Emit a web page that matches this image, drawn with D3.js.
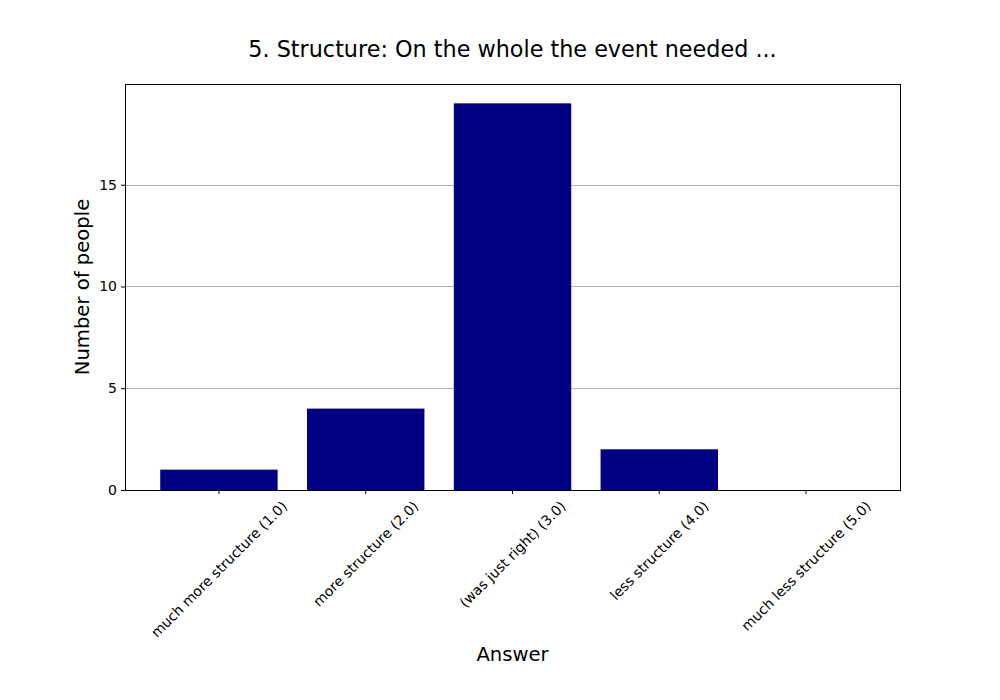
<!DOCTYPE html>
<html><head><meta charset="utf-8">
<script src="https://cdn.jsdelivr.net/npm/d3@7"></script>
<style>body{margin:0;background:#fff}svg{font-family:"DejaVu Sans",sans-serif}</style>
</head><body>
<svg id="c" width="1000" height="700"></svg>
<script>
const categories = ["much more structure (1.0)","more structure (2.0)","(was just right) (3.0)","less structure (4.0)","much less structure (5.0)"];
const counts = [1, 4, 19, 2, 0];
const yTicks = [0, 5, 10, 15];
const title = "5. Structure: On the whole the event needed ...";

const svg = d3.select("#c");
const L = 125, R = 900, T = 84, B = 490;
const x = d3.scaleLinear().domain([-0.64, 4.64]).range([L, R]);
const y = d3.scaleLinear().domain([0, 19.95]).range([B, T]);

// grid
svg.append("g").selectAll("line").data(yTicks.filter(d=>d>0)).join("line")
  .attr("x1", L).attr("x2", R).attr("y1", d=>Math.round(y(d))+0.5).attr("y2", d=>Math.round(y(d))+0.5)
  .attr("stroke", "#b0b0b0").attr("stroke-width", 1);

// bars
svg.append("g").selectAll("rect").data(counts).join("rect")
  .attr("x", (d,i)=>x(i-0.4)).attr("width", (d,i)=>x(i+0.4)-x(i-0.4))
  .attr("y", d=>y(d)).attr("height", d=>B-y(d)).attr("fill", "#000080");

// frame
svg.append("rect").attr("x", L+0.5).attr("y", T+0.5).attr("width", R-L).attr("height", B-T)
  .attr("fill", "none").attr("stroke", "#000").attr("stroke-width", 1);

// y axis
const ya = svg.append("g").attr("transform", `translate(${L},0)`)
  .call(d3.axisLeft(y).tickValues(yTicks).tickSize(4).tickPadding(4).tickFormat(d3.format("d")));
ya.select(".domain").remove();
ya.selectAll("text").attr("font-size", 14).attr("font-family", "DejaVu Sans").attr("fill", "#000");
ya.selectAll("line").attr("stroke", "#000").attr("stroke-width", 1);

// x axis ticks
const xa = svg.append("g");
xa.selectAll("line").data(categories).join("line")
  .attr("x1", (d,i)=>x(i)).attr("x2", (d,i)=>x(i)).attr("y1", B).attr("y2", B+4)
  .attr("stroke", "#000").attr("stroke-width", 1);
xa.selectAll("text").data(categories).join("text")
  .attr("font-size", 14).attr("text-anchor", "middle").attr("dominant-baseline", "central")
  .text(d=>d)
  .each(function(d,i){
    const len = this.getComputedTextLength();
    const h = 16;
    const half = (len + h) / Math.SQRT2 / 2;
    const cx = x(i), cy = B + 4 + 4 + half;
    d3.select(this).attr("transform", `translate(${cx},${cy}) rotate(-45)`);
  });

// labels
svg.append("text").attr("x", (L+R)/2).attr("y", 49).attr("text-anchor", "middle")
  .attr("dominant-baseline", "central").attr("font-size", 22.3).text(title);
svg.append("text").attr("x", (L+R)/2).attr("y", 654).attr("text-anchor", "middle")
  .attr("dominant-baseline", "central").attr("font-size", 19.6).text("Answer");
svg.append("text").attr("transform", `translate(82,${(T+B)/2}) rotate(-90)`).attr("text-anchor", "middle")
  .attr("dominant-baseline", "central").attr("font-size", 19.6).text("Number of people");
</script>
</body></html>
